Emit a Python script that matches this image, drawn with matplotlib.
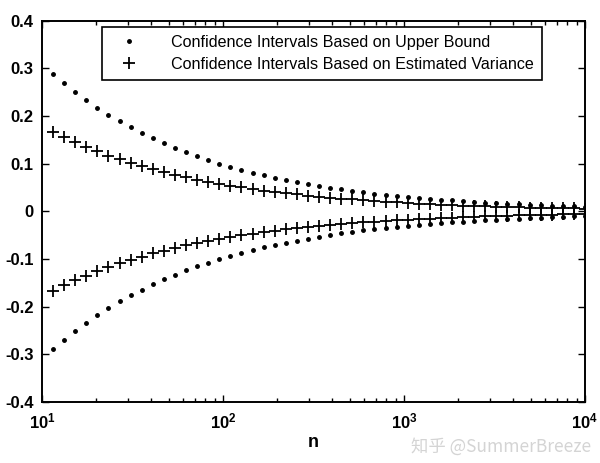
import math
import matplotlib
matplotlib.use("Agg")
import matplotlib.pyplot as plt
from matplotlib.ticker import LogLocator, FixedLocator, FuncFormatter, NullFormatter

plt.rcParams['font.family'] = ['Liberation Sans', 'DejaVu Sans']
plt.rcParams['axes.unicode_minus'] = False
plt.rcParams['mathtext.fontset'] = 'custom'
plt.rcParams['mathtext.rm'] = 'Liberation Sans'
plt.rcParams['mathtext.bf'] = 'Liberation Sans:bold'

# sample sizes (log-spaced along the x axis)
n_values = [11.51, 13.26, 15.26, 17.58, 20.24, 23.30, 26.83, 30.89, 35.56,
            40.95, 47.15, 54.29, 62.51, 71.97, 82.86, 95.41, 109.8, 126.5, 145.6,
            167.7, 193.1, 222.3, 256.0, 294.7, 339.3, 390.7, 449.9, 517.9, 596.4,
            686.6, 790.6, 910.3, 1048, 1207, 1389, 1600, 1842, 2121, 2442,
            2812, 3237, 3728, 4292, 4942, 5690, 6551, 7543, 8685, 10000]

# confidence intervals based on upper bound (dots)
ub_upper = [0.2888, 0.2691, 0.2508, 0.2337, 0.2178, 0.2030, 0.1892, 0.1763, 0.1643,
            0.1531, 0.1427, 0.1330, 0.1240, 0.1155, 0.1077, 0.1003, 0.0935, 0.0871, 0.0812,
            0.0757, 0.0705, 0.0657, 0.0613, 0.0571, 0.0532, 0.0496, 0.0462, 0.0431, 0.0401,
            0.0374, 0.0349, 0.0325, 0.0303, 0.0282, 0.0263, 0.0245, 0.0228, 0.0213, 0.0198,
            0.0185, 0.0172, 0.0160, 0.0150, 0.0139, 0.0130, 0.0121, 0.0113, 0.0105, 0.0098]
ub_lower = [-0.2888, -0.2691, -0.2508, -0.2337, -0.2178, -0.2030, -0.1892, -0.1763, -0.1643,
            -0.1531, -0.1427, -0.1330, -0.1240, -0.1155, -0.1077, -0.1003, -0.0935, -0.0871, -0.0812,
            -0.0757, -0.0705, -0.0657, -0.0613, -0.0571, -0.0532, -0.0496, -0.0462, -0.0431, -0.0401,
            -0.0374, -0.0349, -0.0325, -0.0303, -0.0282, -0.0263, -0.0245, -0.0228, -0.0213, -0.0198,
            -0.0185, -0.0172, -0.0160, -0.0150, -0.0139, -0.0130, -0.0121, -0.0113, -0.0105, -0.0098]

# confidence intervals based on estimated variance (plus signs)
ev_upper = [0.1668, 0.1554, 0.1448, 0.1349, 0.1258, 0.1172, 0.1092, 0.1018, 0.0949,
            0.0884, 0.0824, 0.0768, 0.0716, 0.0667, 0.0622, 0.0579, 0.0540, 0.0503, 0.0469,
            0.0437, 0.0407, 0.0379, 0.0354, 0.0330, 0.0307, 0.0286, 0.0267, 0.0249, 0.0232,
            0.0216, 0.0201, 0.0188, 0.0175, 0.0163, 0.0152, 0.0141, 0.0132, 0.0123, 0.0114,
            0.0107, 0.0099, 0.0093, 0.0086, 0.0080, 0.0075, 0.0070, 0.0065, 0.0061, 0.0057]
ev_lower = [-0.1668, -0.1554, -0.1448, -0.1349, -0.1258, -0.1172, -0.1092, -0.1018, -0.0949,
            -0.0884, -0.0824, -0.0768, -0.0716, -0.0667, -0.0622, -0.0579, -0.0540, -0.0503, -0.0469,
            -0.0437, -0.0407, -0.0379, -0.0354, -0.0330, -0.0307, -0.0286, -0.0267, -0.0249, -0.0232,
            -0.0216, -0.0201, -0.0188, -0.0175, -0.0163, -0.0152, -0.0141, -0.0132, -0.0123, -0.0114,
            -0.0107, -0.0099, -0.0093, -0.0086, -0.0080, -0.0075, -0.0070, -0.0065, -0.0061, -0.0057]

y_ticks = [-0.4, -0.3, -0.2, -0.1, 0, 0.1, 0.2, 0.3, 0.4]
label_ub = 'Confidence Intervals Based on Upper Bound'
label_ev = 'Confidence Intervals Based on Estimated Variance'

fig = plt.figure(figsize=(6.0, 4.63), dpi=100)
ax = fig.add_axes([0.07, 0.132, 0.905, 0.823])

ax.plot(n_values, ub_upper, linestyle='none', marker='o', markersize=2.5,
        color='black', label=label_ub)
ax.plot(n_values, ub_lower, linestyle='none', marker='o', markersize=2.5, color='black')
ax.plot(n_values, ev_upper, linestyle='none', marker='+', markersize=8.5,
        markeredgewidth=1.3, color='black', label=label_ev)
ax.plot(n_values, ev_lower, linestyle='none', marker='+', markersize=8.5,
        markeredgewidth=1.3, color='black')

ax.set_xscale('log')
ax.set_xlim(10, 10000)
ax.set_ylim(-0.4, 0.4)
ax.yaxis.set_major_locator(FixedLocator(y_ticks))
ax.yaxis.set_major_formatter(FuncFormatter(lambda v, p: '0' if abs(v) < 1e-9 else f'{v:g}'))
ax.xaxis.set_major_locator(LogLocator(base=10, numticks=10))
ax.xaxis.set_major_formatter(FuncFormatter(lambda v, p: r'$\mathbf{10^{%d}}$' % round(math.log10(v))))
ax.xaxis.set_minor_locator(LogLocator(base=10, subs=range(2, 10), numticks=20))
ax.xaxis.set_minor_formatter(NullFormatter())

ax.tick_params(which='both', direction='in', top=True, right=True, labelsize=12, width=1.0)
ax.tick_params(which='major', length=5, pad=6)
ax.tick_params(axis='x', which='major', pad=7)
ax.tick_params(which='minor', length=3)
for lbl in ax.get_yticklabels():
    lbl.set_fontweight('bold')
for s in ax.spines.values():
    s.set_linewidth(1.4)

ax.set_xlabel('n', fontsize=13, fontweight='bold', labelpad=2)

leg = ax.legend(loc='upper left', bbox_to_anchor=(0.11, 0.985), fontsize=11.6,
                frameon=True, fancybox=False, framealpha=1, edgecolor='black',
                borderpad=0.5, handletextpad=1.4, handlelength=2.4, labelspacing=0.45,
                borderaxespad=0)
leg.get_frame().set_linewidth(1.2)

fig.text(0.985, 0.036, '知乎 @SummerBreeze', ha='right', va='center', fontsize=12.5,
         color='#d4d4d4', family=['Noto Sans CJK SC', 'DejaVu Sans'])

fig.savefig('out.png', dpi=100)
